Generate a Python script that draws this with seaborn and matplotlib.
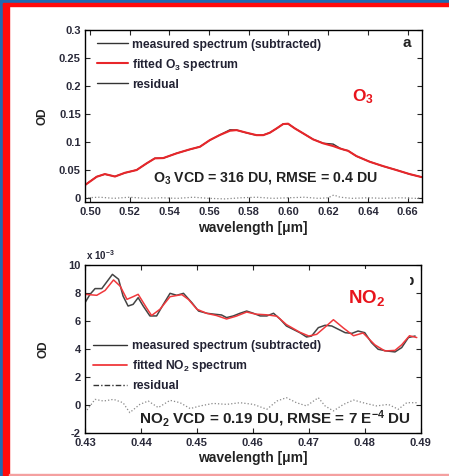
import matplotlib
matplotlib.use("Agg")
import matplotlib.pyplot as plt
import seaborn as sns
from matplotlib.lines import Line2D
from matplotlib.patches import Rectangle

# ---- panel a: O3 (OD) ----
o3_wl = [0.4975, 0.5034, 0.5075, 0.5126, 0.5176, 0.5235, 0.5285, 0.5327, 0.5369,
         0.5436, 0.5503, 0.5554, 0.5604, 0.5654, 0.5705, 0.5738, 0.5789, 0.5839,
         0.5873, 0.5906, 0.5940, 0.5973, 0.5998, 0.6032, 0.6074, 0.6124, 0.6175,
         0.6225, 0.6260, 0.6280, 0.6300, 0.6342, 0.6409, 0.6476, 0.6543, 0.6610,
         0.6670]
o3_fit = [0.0227, 0.0376, 0.0424, 0.0380, 0.0447, 0.0496, 0.0615, 0.0705, 0.0710,
          0.0794, 0.0866, 0.0912, 0.1032, 0.1122, 0.1199, 0.1210, 0.1163, 0.1120,
          0.1120, 0.1163, 0.1240, 0.1318, 0.1325, 0.1240, 0.1152, 0.1044, 0.0973,
          0.0925, 0.0880, 0.0860, 0.0840, 0.0746, 0.0644, 0.0567, 0.0496, 0.0424,
          0.0370]
o3_meas = [0.0230, 0.0378, 0.0422, 0.0382, 0.0445, 0.0498, 0.0613, 0.0707, 0.0708,
           0.0796, 0.0864, 0.0914, 0.1030, 0.1124, 0.1215, 0.1212, 0.1160, 0.1118,
           0.1122, 0.1165, 0.1238, 0.1320, 0.1322, 0.1242, 0.1150, 0.1046, 0.0975,
           0.0960, 0.0885, 0.0858, 0.0842, 0.0744, 0.0646, 0.0565, 0.0498, 0.0422,
           0.0372]
o3_res_wl = [0.4975, 0.505, 0.512, 0.520, 0.528, 0.536, 0.544, 0.552, 0.560, 0.568,
             0.576, 0.584, 0.592, 0.600, 0.608, 0.615, 0.620, 0.6228, 0.626, 0.632,
             0.640, 0.648, 0.656, 0.664, 0.667]
o3_res = [0.000, 0.001, -0.001, 0.001, -0.001, 0.000, -0.001, 0.001, -0.001, -0.002,
          0.000, 0.001, -0.001, 0.000, 0.001, -0.001, 0.000, 0.005, 0.001, -0.001,
          0.000, -0.001, 0.000, -0.001, 0.000]
o3_xticks = [0.50, 0.52, 0.54, 0.56, 0.58, 0.60, 0.62, 0.64, 0.66]
o3_yticks = [0, 0.05, 0.1, 0.15, 0.2, 0.25, 0.3]
o3_ylabels = ["0", "0.05", "0.1", "0.15", "0.2", "0.25", "0.3"]

# ---- panel b: NO2 (OD in units of 1e-3) ----
no2_meas_wl = [0.4300, 0.4309, 0.4318, 0.4330, 0.4338, 0.4349, 0.4360, 0.4368, 0.4377,
               0.4386, 0.4395, 0.4404, 0.4416, 0.4428, 0.4440, 0.4452, 0.4464, 0.4476,
               0.4491, 0.4503, 0.4518, 0.4532, 0.4544, 0.4553, 0.4565, 0.4577, 0.4589,
               0.4601, 0.4613, 0.4625, 0.4637, 0.4649, 0.4660, 0.4672, 0.4684, 0.4696,
               0.4705, 0.4717, 0.4729, 0.4741, 0.4753, 0.4765, 0.4777, 0.4788, 0.4800,
               0.4812, 0.4824, 0.4839, 0.4854, 0.4866, 0.4878, 0.4890]
no2_meas = [7.32, 7.92, 8.33, 8.33, 8.76, 9.35, 9.00, 7.80, 7.08, 7.20, 7.68, 7.08,
            6.37, 6.37, 7.20, 7.99, 7.85, 7.99, 7.32, 6.72, 6.56, 6.49, 6.44, 6.25,
            6.37, 6.56, 6.72, 6.56, 6.37, 6.37, 6.56, 6.13, 5.65, 5.41, 5.17, 4.86,
            4.93, 5.53, 5.70, 5.65, 5.41, 5.17, 5.12, 5.29, 5.17, 4.46, 3.98, 3.86,
            3.79, 4.10, 4.82, 4.93]
no2_fit_wl = [0.4300, 0.4321, 0.4336, 0.4351, 0.4363, 0.4375, 0.4386, 0.4395, 0.4410,
              0.4419, 0.4434, 0.4452, 0.4473, 0.4485, 0.4500, 0.4518, 0.4535, 0.4553,
              0.4570, 0.4589, 0.4605, 0.4625, 0.4643, 0.4660, 0.4684, 0.4700, 0.4714,
              0.4730, 0.4744, 0.4762, 0.4780, 0.4797, 0.4818, 0.4836, 0.4854, 0.4866,
              0.4880, 0.4893]
no2_fit = [7.92, 7.85, 8.20, 8.95, 8.50, 7.56, 7.75, 7.92, 6.95, 6.40, 6.85, 7.75,
           7.90, 7.55, 6.85, 6.55, 6.40, 6.15, 6.35, 6.65, 6.50, 6.45, 6.35, 5.75,
           5.20, 4.93, 5.05, 5.60, 6.10, 5.50, 4.95, 5.15, 4.30, 3.86, 3.90, 4.30,
           4.95, 4.82]
no2_res_wl = [0.4300, 0.4318, 0.4333, 0.4351, 0.4368, 0.4380, 0.4398, 0.4413, 0.4431,
              0.4452, 0.4470, 0.4488, 0.4506, 0.4529, 0.4553, 0.4577, 0.4601, 0.4625,
              0.4643, 0.4660, 0.4678, 0.4696, 0.4717, 0.4729, 0.4744, 0.4762, 0.4780,
              0.4797, 0.4821, 0.4842, 0.4860, 0.4875, 0.4893]
no2_res = [-0.56, 0.39, 0.27, 0.39, 0.15, -0.56, 0.03, 0.27, -0.20, 0.32, 0.15, -0.27,
           -0.08, 0.10, 0.03, 0.15, 0.03, -0.32, 0.27, 0.51, 0.15, -0.08, 0.51, -0.08,
           -0.44, 0.03, 0.34, 0.15, -0.08, 0.03, -0.32, 0.15, 0.15]
no2_xticks = [0.43, 0.44, 0.45, 0.46, 0.47, 0.48, 0.49]
no2_yticks = [-2, 0, 2, 4, 6, 8, 10]

sns.set_theme(style="ticks")
plt.rcParams["font.family"] = ["Liberation Sans", "DejaVu Sans"]
plt.rcParams["font.weight"] = "bold"
plt.rcParams["mathtext.fontset"] = "custom"
plt.rcParams["mathtext.rm"] = "Liberation Sans:bold"
plt.rcParams["mathtext.it"] = "Liberation Sans:bold"
plt.rcParams["mathtext.bf"] = "Liberation Sans:bold"

W, H = 449, 476
fig = plt.figure(figsize=(W / 100, H / 100), dpi=100)
fig.patch.set_facecolor("white")


def px_box(l, t, r, b):
    return [l / W, 1 - b / H, (r - l) / W, (b - t) / H]


ax1 = fig.add_axes(px_box(85, 30, 421.5, 201.7))
ax2 = fig.add_axes(px_box(85, 265.3, 420.7, 432.7))

tick_col = "#2a2a3a"
for ax in (ax1, ax2):
    ax.tick_params(direction="in", length=3.5, width=0.8, top=True, right=True,
                   labelsize=8, labelcolor=tick_col)
    ax.tick_params(axis="x", pad=3.5)
    ax.tick_params(axis="y", pad=3)
    for s in ax.spines.values():
        s.set_linewidth(1.0)
        s.set_color("black")
    ax.set_facecolor("white")

# panel a
sns.lineplot(x=o3_wl, y=o3_meas, ax=ax1, color="#333333", lw=1.0, estimator=None, sort=False)
sns.lineplot(x=o3_wl, y=o3_fit, ax=ax1, color="#e8262a", lw=1.5, estimator=None, sort=False)
sns.lineplot(x=o3_res_wl, y=o3_res, ax=ax1, color="#888888", lw=0.9, ls=":",
             estimator=None, sort=False)
ax1.set_xlim(0.4975, 0.6670)
ax1.set_ylim(-0.007, 0.3)
ax1.set_xticks(o3_xticks, [f"{v:.2f}" for v in o3_xticks])
ax1.set_yticks(o3_yticks, o3_ylabels)
ax1.set_xlabel("wavelength [μm]", fontsize=10, fontweight="bold", color="#222222", va="center")
ax1.set_ylabel("OD", fontsize=8.5, fontweight="bold", color="#222222", va="center")
ax1.xaxis.set_label_coords(0.5, -0.155)
ax1.yaxis.set_label_coords(-0.125, 0.5)

h1 = [Line2D([], [], color="#333333", lw=1.0),
      Line2D([], [], color="#e8262a", lw=1.5),
      Line2D([], [], color="#333333", lw=1.0)]
ax1.legend(h1, ["measured spectrum (subtracted)", "fitted O$_3$ spectrum", "residual"],
           loc="upper left", bbox_to_anchor=(0.036, 0.95), frameon=False, fontsize=8.7,
           borderpad=0, borderaxespad=0, handlelength=2.55, handletextpad=0.35,
           labelspacing=0.5, labelcolor="#222233")
ax1.text(0.957, 0.924, "a", transform=ax1.transAxes, fontsize=11, fontweight="bold",
         ha="center", va="center", color="#222222")
ax1.text(0.826, 0.61, "O$_3$", transform=ax1.transAxes, fontsize=12.5, fontweight="bold",
         ha="center", va="center", color="#e8141c")
ax1.text(0.535, 0.138, "O$_3$ VCD = 316 DU, RMSE = 0.4 DU", transform=ax1.transAxes,
         fontsize=10.2, fontweight="bold", ha="center", va="center", color="#222222")

# panel b
sns.lineplot(x=no2_meas_wl, y=no2_meas, ax=ax2, color="#444444", lw=1.1, estimator=None, sort=False)
sns.lineplot(x=no2_fit_wl, y=no2_fit, ax=ax2, color="#f0383c", lw=1.1, estimator=None, sort=False)
sns.lineplot(x=no2_res_wl, y=no2_res, ax=ax2, color="#888888", lw=0.9, ls=":",
             estimator=None, sort=False)
ax2.set_xlim(0.43, 0.49)
ax2.set_ylim(-2, 10)
ax2.set_xticks(no2_xticks, [f"{v:.2f}" for v in no2_xticks])
ax2.set_yticks(no2_yticks, [str(v) for v in no2_yticks])
ax2.set_xlabel("wavelength [μm]", fontsize=10, fontweight="bold", color="#222222", va="center")
ax2.set_ylabel("OD", fontsize=8.5, fontweight="bold", color="#222222", va="center")
ax2.xaxis.set_label_coords(0.5, -0.153)
ax2.yaxis.set_label_coords(-0.125, 0.5)

h2 = [Line2D([], [], color="#333333", lw=1.0),
      Line2D([], [], color="#f0383c", lw=1.3),
      Line2D([], [], color="#333333", lw=1.0, ls=(0, (4, 1.5, 1, 1.5)))]
ax2.legend(h2, ["measured spectrum (subtracted)", "fitted NO$_2$ spectrum", "residual"],
           loc="upper left", bbox_to_anchor=(0.024, 0.555), frameon=False, fontsize=8.7,
           borderpad=0, borderaxespad=0, handlelength=2.85, handletextpad=0.35,
           labelspacing=0.5, labelcolor="#222233")
ax2.text(0.968, 0.906, "b", transform=ax2.transAxes, fontsize=11, fontweight="bold",
         ha="center", va="center", color="#222222")
# white patch pasted over the panel letter, as in the source slide
ax2.add_patch(Rectangle((0.76, 0.78), 0.207, 0.2, transform=ax2.transAxes,
                        facecolor="white", edgecolor="none", zorder=5))
ax2.text(0.84, 0.805, "NO$_2$", transform=ax2.transAxes, fontsize=13.5, fontweight="bold",
         ha="center", va="center", color="#e8141c", zorder=6)
ax2.text(0.566, 0.082, "NO$_2$ VCD = 0.19 DU, RMSE = 7 E$^{-4}$ DU", transform=ax2.transAxes,
         fontsize=11, fontweight="bold", ha="center", va="center", color="#222222")
fig.text(86 / W, 1 - 255 / H, "x 10$^{-3}$", fontsize=7, fontweight="bold",
         color="#222233", ha="left", va="center")

# slide frame
blue, red = "#1f6ab0", "#ff0a0a"
fig.patches.extend([
    Rectangle((0, 0), 3 / W, 1, transform=fig.transFigure, color=blue, zorder=10),
    Rectangle((3 / W, 0), 5.5 / W, 1 - 2.7 / H, transform=fig.transFigure, color=red, zorder=10),
    Rectangle((0, 1 - 2.7 / H), 1, 2.7 / H, transform=fig.transFigure, color=blue, zorder=10),
    Rectangle((3 / W, 1 - 6 / H), 1, 3.3 / H, transform=fig.transFigure, color=red, zorder=10),
    Rectangle((8.5 / W, 0.4 / H), 1, 1.2 / H, transform=fig.transFigure, color="#f4a0a0", zorder=10),
])

fig.savefig("out.png", dpi=100)
